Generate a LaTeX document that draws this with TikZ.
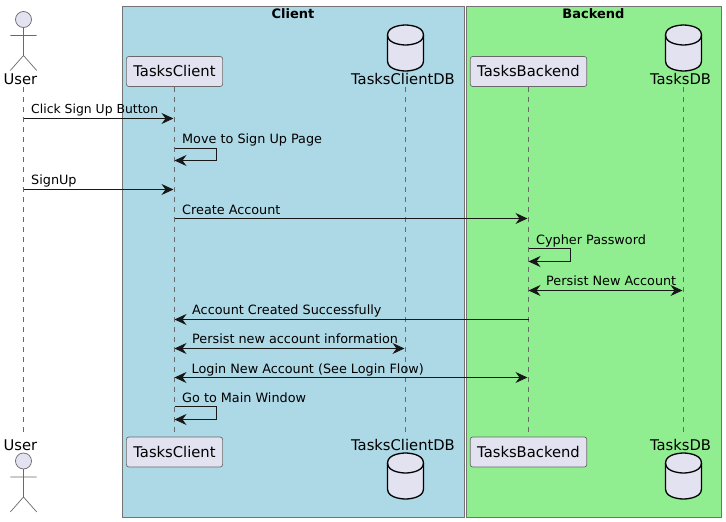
\documentclass[tikz,border=0pt]{standalone}
\usepackage{fontspec}
\setmainfont{DejaVu Sans}
\usetikzlibrary{positioning,arrows.meta}

\definecolor{partfill}{HTML}{E2E2F0}
\definecolor{inkline}{HTML}{181818}
\definecolor{clientblue}{HTML}{ADD8E6}
\definecolor{backendgreen}{HTML}{90EE90}

\tikzset{
  groupbox/.style={draw=black!55,line width=0.9pt,inner sep=0pt},
  grouptitle/.style={font=\fontsize{13}{15}\selectfont\bfseries,inner sep=0pt},
  partbox/.style={draw=inkline!65,line width=0.7pt,fill=partfill,rounded corners=2.5pt,inner xsep=7pt,inner ysep=0pt,minimum height=30pt,font=\fontsize{14.75}{16}\selectfont},
  partlabel/.style={anchor=base,inner sep=0pt,text height=16pt,text depth=3pt,font=\fontsize{14.75}{16}\selectfont},
  lifeline/.style={draw=inkline!65,line width=0.6pt,dash pattern=on 5pt off 5pt},
  msg/.style={draw=inkline,line width=1pt,-{Stealth[length=12pt,width=11pt,inset=4pt]}},
  dmsg/.style={draw=inkline,line width=1pt,{Stealth[length=12pt,width=11pt,inset=4pt]}-{Stealth[length=12pt,width=11pt,inset=4pt]}},
  msglabel/.style={anchor=base west,inner sep=0pt,font=\fontsize{12.8}{15}\selectfont},
  actorshape/.pic={
    \draw[draw=inkline!65,line width=0.7pt,fill=partfill] (0,0) circle (8pt);
    \draw[draw=inkline!65,line width=0.7pt] (0,8) -- (0,36) (-13.2,16) -- (13.2,16) (-13.2,51) -- (0,36) -- (13.2,51);
  },
  dbshape/.pic={
    \draw[draw=black,line width=1.3pt,fill=partfill] (-18,10) .. controls (-18,0) and (0,0) .. (0,0)
      .. controls (0,0) and (18,0) .. (18,10) -- (18,36) .. controls (18,46) and (0,46) .. (0,46)
      .. controls (0,46) and (-18,46) .. (-18,36) -- cycle;
    \draw[draw=black,line width=1.3pt] (-18,10) .. controls (-18,20) and (0,20) .. (0,20)
      .. controls (0,20) and (18,20) .. (18,10);
  }
}

\begin{document}
\begin{tikzpicture}[x=1pt,y=-1pt,>=Stealth]
  \useasboundingbox (0,0) rectangle (726,522);

  % groups
  \node[groupbox,fill=clientblue,minimum width=342pt,minimum height=510.5pt] (clientbox) at (293.5,261.75) {};
  \node[groupbox,fill=backendgreen,minimum width=255pt,minimum height=510.5pt] (backendbox) at (594,261.75) {};
  \node[grouptitle] (clienttitle) at (293,13.5) {Client};
  \node[grouptitle] (backendtitle) at (593.5,13.5) {Backend};

  % heads
  \pic at (23.5,19.5) {actorshape};
  \pic at (405.5,25) {dbshape};
  \pic at (683.5,25) {dbshape};
  \node[partlabel] (userhead) at (20.5,84) {User};
  \node[partbox] (clienthead) at (174.5,71.5) {TasksClient};
  \node[partlabel] (clientdbhead) at (403,84) {TasksClientDB};
  \node[partbox] (backendhead) at (528.5,71.5) {TasksBackend};
  \node[partlabel] (tasksdbhead) at (680.5,84) {TasksDB};

  % feet
  \node[partlabel] (userfoot) at (20.5,450) {User};
  \node[partbox] (clientfoot) at (174.5,452) {TasksClient};
  \node[partlabel] (clientdbfoot) at (403,450) {TasksClientDB};
  \node[partbox] (backendfoot) at (528.5,452) {TasksBackend};
  \node[partlabel] (tasksdbfoot) at (680.5,450) {TasksDB};
  \pic at (23.5,461) {actorshape};
  \pic at (405.5,453) {dbshape};
  \pic at (683.5,453) {dbshape};

  % lifelines
  \coordinate (usertop) at (23.5,87);
  \coordinate (userend) at (23.5,433);
  \coordinate (clientdbtop) at (405.5,87);
  \coordinate (clientdbend) at (405.5,433);
  \coordinate (tasksdbtop) at (683.5,87);
  \coordinate (tasksdbend) at (683.5,433);
  \draw[lifeline] (usertop) -- (userend);
  \draw[lifeline] (clienthead) -- (clientfoot);
  \draw[lifeline] (clientdbtop) -- (clientdbend);
  \draw[lifeline] (backendhead) -- (backendfoot);
  \draw[lifeline] (tasksdbtop) -- (tasksdbend);

  % messages
  \coordinate (m1a) at (usertop |- 0,118.5);
  \coordinate (m1b) at (173.5,118.5);
  \coordinate (m2a) at (clienthead |- 0,148.5);
  \coordinate (m2b) at (clienthead |- 0,160.5);
  \coordinate (m3a) at (usertop |- 0,189.5);
  \coordinate (m3b) at (173.5,189.5);
  \coordinate (m4a) at (clienthead |- 0,218.5);
  \coordinate (m4b) at (527.5,218.5);
  \coordinate (m5a) at (backendhead |- 0,248.5);
  \coordinate (m5b) at (backendhead |- 0,261.5);
  \coordinate (m6a) at (backendhead |- 0,290.5);
  \coordinate (m6b) at (682.5,290.5);
  \coordinate (m7a) at (backendhead |- 0,319.5);
  \coordinate (m7b) at (clienthead |- 0,319.5);
  \coordinate (m8a) at (clienthead |- 0,348.5);
  \coordinate (m8b) at (404.5,348.5);
  \coordinate (m9a) at (clienthead |- 0,377.5);
  \coordinate (m9b) at (527.5,377.5);
  \coordinate (m10a) at (clienthead |- 0,406.5);
  \coordinate (m10b) at (clienthead |- 0,419.5);

  \draw[msg] (m1a) -- (m1b);
  \draw[msg] (m2a) -- ++(42,0) |- (m2b);
  \draw[msg] (m3a) -- (m3b);
  \draw[msg] (m4a) -- (m4b);
  \draw[msg] (m5a) -- ++(42,0) |- (m5b);
  \draw[dmsg] (m6a) -- (m6b);
  \draw[msg] (m7a) -- (m7b);
  \draw[dmsg] (m8a) -- (m8b);
  \draw[dmsg] (m9a) -- (m9b);
  \draw[msg] (m10a) -- ++(42,0) |- (m10b);

  \node[msglabel,font=\fontsize{12.4}{15}\selectfont] (l1) at (31,113) {Click Sign Up Button};
  \node[msglabel] (l2) at (182,143) {Move to Sign Up Page};
  \node[msglabel] (l3) at (31,184.5) {SignUp};
  \node[msglabel] (l4) at (182,214) {Create Account};
  \node[msglabel] (l5) at (536,244) {Cypher Password};
  \node[msglabel] (l6) at (546,285.5) {Persist New Account};
  \node[msglabel] (l7) at (192,314.5) {Account Created Successfully};
  \node[msglabel] (l8) at (192,343.5) {Persist new account information};
  \node[msglabel] (l9) at (191.5,373) {Login New Account (See Login Flow)};
  \node[msglabel] (l10) at (182,402) {Go to Main Window};
\end{tikzpicture}
\end{document}
